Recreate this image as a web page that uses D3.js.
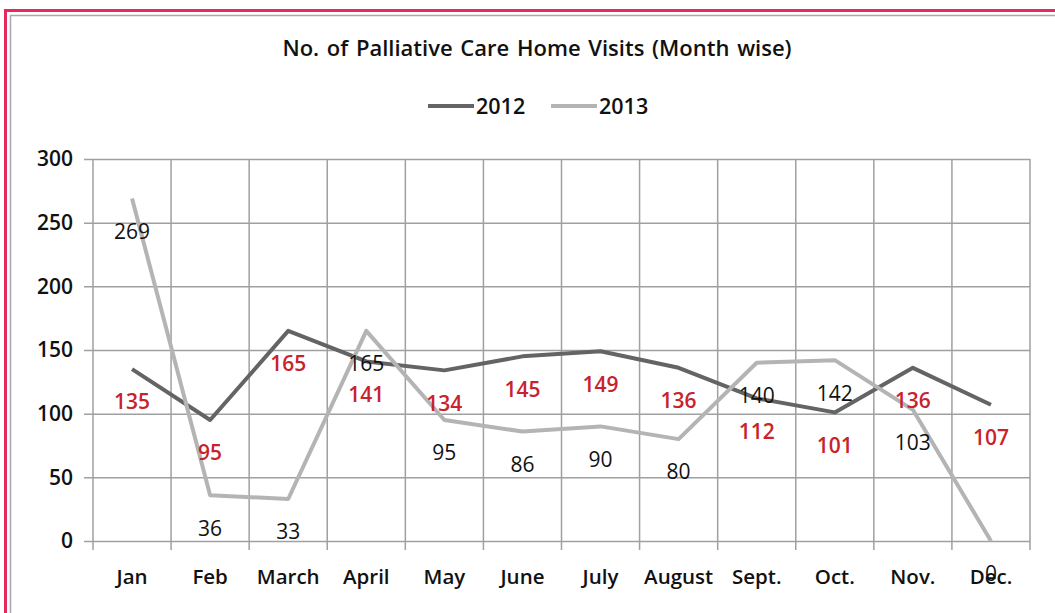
<!DOCTYPE html>
<html>
<head>
<meta charset="utf-8">
<script src="https://cdn.jsdelivr.net/npm/d3@7"></script>
<style>
  html, body { margin: 0; padding: 0; background: #fff; }
  svg { display: block; font-family: "Open Sans", Lato, sans-serif; }
</style>
</head>
<body>
<div id="chart"></div>
<script>
var months = ['Jan', 'Feb', 'March', 'April', 'May', 'June', 'July', 'August', 'Sept.', 'Oct.', 'Nov.', 'Dec.'];
var visits2012 = [135, 95, 165, 141, 134, 145, 149, 136, 112, 101, 136, 107];
var visits2013 = [269, 36, 33, 165, 95, 86, 90, 80, 140, 142, 103, 0];
var yTicks = [0, 50, 100, 150, 200, 250, 300];
var seriesNames = ['2012', '2013'];

var w = 1055, h = 613;
var svg = d3.select('#chart').append('svg')
    .attr('width', w)
    .attr('height', h);

// frame: pink outer, grey inner
svg.append('rect').attr('x', 5.5).attr('y', 10.5).attr('width', w + 20).attr('height', h + 20)
    .attr('fill', 'none').attr('stroke', '#e8295f').attr('stroke-width', 3);
svg.append('rect').attr('x', 10.5).attr('y', 15.5).attr('width', w + 20).attr('height', h + 20)
    .attr('fill', 'none').attr('stroke', '#a8a8a8').attr('stroke-width', 1.5);

var x = d3.scaleBand().domain(months).range([93, 1030]);
var y = d3.scaleLinear().domain([0, 300]).range([541, 159]);

svg.append('text')
    .attr('x', 537).attr('y', 56)
    .attr('text-anchor', 'middle')
    .attr('font-size', 22).attr('font-weight', 600).attr('fill', '#111')
    .attr('word-spacing', 2)
    .text('No. of Palliative Care Home Visits (Month wise)');

// legend
var colors = ['#646464', '#b4b4b4'];
var legend = svg.append('g');
[428, 551].forEach(function (lx, i) {
    legend.append('line').attr('x1', lx).attr('x2', lx + 46).attr('y1', 106).attr('y2', 106)
        .attr('stroke', colors[i]).attr('stroke-width', 4);
    legend.append('text').attr('x', lx + 48).attr('y', 114)
        .attr('font-size', 21.5).attr('font-weight', 600).attr('fill', '#111')
        .text(seriesNames[i]);
});

// horizontal grid
var gy = svg.append('g').attr('transform', 'translate(1030,0)')
    .call(d3.axisLeft(y).tickValues(yTicks).tickSize(1030 - 84).tickFormat(''));
gy.select('.domain').remove();
gy.selectAll('line').attr('stroke', '#a0a0a0').attr('stroke-width', 1.5);

// y axis labels
var gyl = svg.append('g').attr('transform', 'translate(84,0)')
    .call(d3.axisLeft(y).tickValues(yTicks).tickSize(0).tickPadding(11));
gyl.select('.domain').remove();
gyl.selectAll('text').attr('font-size', 21).attr('font-weight', 600).attr('fill', '#111')
    .attr('font-family', '"Open Sans", sans-serif');

// vertical grid at category boundaries
var bounds = months.map(function (m) { return x(m); }).concat([x.range()[1]]);
svg.append('g').selectAll('line').data(bounds).enter().append('line')
    .attr('x1', function (d) { return d; }).attr('x2', function (d) { return d; })
    .attr('y1', y(300)).attr('y2', 550)
    .attr('stroke', '#a0a0a0').attr('stroke-width', 1.5);

// x axis labels
var gx = svg.append('g').attr('transform', 'translate(0,541)')
    .call(d3.axisBottom(x).tickSize(0).tickPadding(28));
gx.select('.domain').remove();
gx.selectAll('text').attr('font-size', 20.5).attr('font-weight', 600).attr('fill', '#111')
    .attr('font-family', '"Open Sans", sans-serif');

var cx = function (d, i) { return x(months[i]) + x.bandwidth() / 2; };
var line = d3.line().x(cx).y(function (d) { return y(d); });

[visits2012, visits2013].forEach(function (vals, k) {
    svg.append('path').datum(vals)
        .attr('d', line)
        .attr('fill', 'none')
        .attr('stroke', colors[k])
        .attr('stroke-width', 4)
        .attr('stroke-linejoin', 'round');
});

// data labels, 2012 red, 2013 black
[[visits2012, '#c8232c', 600], [visits2013, '#111', 400]].forEach(function (s) {
    svg.append('g').selectAll('text').data(s[0]).enter().append('text')
        .attr('x', cx)
        .attr('y', function (d) { return y(d) + 33; })
        .attr('dy', '0.35em')
        .attr('text-anchor', 'middle')
        .attr('font-size', 21)
        .attr('font-weight', s[2])
        .attr('fill', s[1])
        .text(function (d) { return d; });
});
</script>
</body>
</html>
